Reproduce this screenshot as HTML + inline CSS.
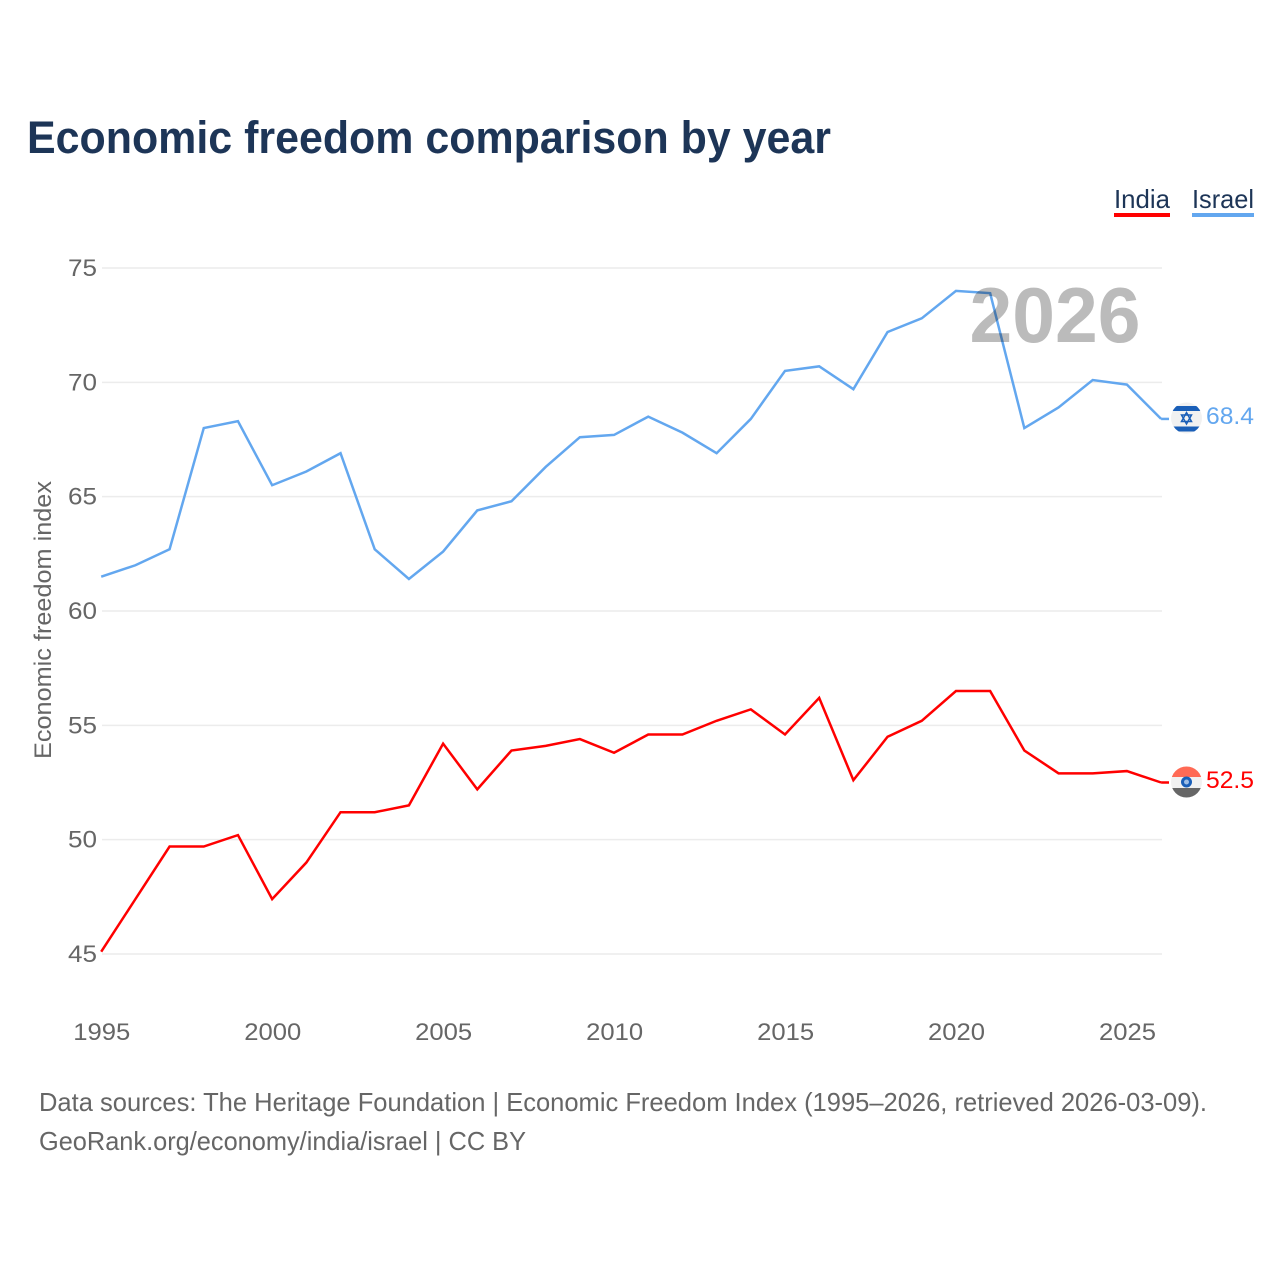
<!DOCTYPE html>
<html lang="en">
<head>
<meta charset="utf-8">
<title>Economic freedom comparison by year</title>
<style>
html,body{margin:0;padding:0;background:#fff;width:1280px;height:1280px;overflow:hidden}
svg{display:block}
text{font-family:"Liberation Sans",sans-serif}
.tick{font-size:24px;fill:#666}
.foot{font-size:26px;fill:#666}
.legend{font-size:26px;fill:#1d3557}
</style>
</head>
<body>
<svg id="chart" xmlns="http://www.w3.org/2000/svg" width="1280" height="1280" viewBox="0 0 1280 1280">
  <defs>
    <clipPath id="clip-il"><circle cx="1186.5" cy="418" r="15.5"/></clipPath>
    <clipPath id="clip-in"><circle cx="1186.5" cy="782" r="15.5"/></clipPath>
  </defs>
  <text x="27" y="153" font-size="45" font-weight="700" fill="#1d3557" textLength="804" lengthAdjust="spacingAndGlyphs">Economic freedom comparison by year</text>

  <g>
    <text class="legend" x="1114" y="208" textLength="56" lengthAdjust="spacingAndGlyphs">India</text>
    <rect x="1114" y="213" width="56" height="4" fill="#ff0000"/>
  </g>
  <g>
    <text class="legend" x="1192" y="208" textLength="62" lengthAdjust="spacingAndGlyphs">Israel</text>
    <rect x="1192" y="213" width="62" height="4" fill="#63a7ef"/>
  </g>

  <g id="grid"></g>
  <g id="yticks"></g>
  <g id="xticks"></g>

  <text x="0" y="0" transform="translate(51,620) rotate(-90)" text-anchor="middle" font-size="24" fill="#666" textLength="278" lengthAdjust="spacingAndGlyphs">Economic freedom index</text>

  <g id="series"></g>

  <text x="1055" y="342" text-anchor="middle" font-size="78" font-weight="700" fill="#bbbbbb" textLength="171" lengthAdjust="spacingAndGlyphs" style="mix-blend-mode:multiply">2026</text>

  <g>
    <g clip-path="url(#clip-il)">
      <rect x="1171" y="402" width="31" height="32" fill="#f1f1f1"/>
      <rect x="1171" y="406" width="31" height="5" fill="#1a5fb8"/>
      <rect x="1171" y="426.500" width="31" height="5" fill="#1a5fb8"/>
      <polygon points="1186.500,412.500 1191.500,421.500 1181.500,421.500" fill="none" stroke="#1a5fb8" stroke-width="1.500"/>
      <polygon points="1186.500,424 1191.500,415 1181.500,415" fill="none" stroke="#1a5fb8" stroke-width="1.500"/>
    </g>
  </g>
  <g>
    <g clip-path="url(#clip-in)">
      <rect x="1171" y="766" width="31" height="11" fill="#ff6a55"/>
      <rect x="1171" y="777" width="31" height="11" fill="#f1f1f1"/>
      <rect x="1171" y="788" width="31" height="11" fill="#666666"/>
      <circle cx="1186.500" cy="782" r="5.500" fill="#1a5fb8"/>
      <circle cx="1186.500" cy="782" r="2.500" fill="#9dbde6"/>
    </g>
  </g>

  <text x="1206" y="424" font-size="24" fill="#63a7ef" textLength="48" lengthAdjust="spacingAndGlyphs">68.4</text>
  <text x="1206" y="788" font-size="24" fill="#ff0000" textLength="48" lengthAdjust="spacingAndGlyphs">52.5</text>

  <text class="foot" x="39" y="1111" textLength="1168" lengthAdjust="spacingAndGlyphs">Data sources: The Heritage Foundation | Economic Freedom Index (1995–2026, retrieved 2026-03-09).</text>
  <text class="foot" x="39" y="1150" textLength="487" lengthAdjust="spacingAndGlyphs">GeoRank.org/economy/india/israel | CC BY</text>
</svg>
<script>
var years = [1995,1996,1997,1998,1999,2000,2001,2002,2003,2004,2005,2006,2007,2008,2009,2010,2011,2012,2013,2014,2015,2016,2017,2018,2019,2020,2021,2022,2023,2024,2025,2026];
var indiaValues = [45.1,47.4,49.7,49.7,50.2,47.4,49.0,51.2,51.2,51.5,54.2,52.2,53.9,54.1,54.4,53.8,54.6,54.6,55.2,55.7,54.6,56.2,52.6,54.5,55.2,56.5,56.5,53.9,52.9,52.9,53.0,52.5];
var israelValues = [61.5,62.0,62.7,68.0,68.3,65.5,66.1,66.9,62.7,61.4,62.6,64.4,64.8,66.3,67.6,67.7,68.5,67.8,66.9,68.4,70.5,70.7,69.7,72.2,72.8,74.0,73.9,68.0,68.9,70.1,69.9,68.4];
var yTickLabels = [45,50,55,60,65,70,75];
var xTickLabels = [1995,2000,2005,2010,2015,2020,2025];

var NS = 'http://www.w3.org/2000/svg';
function xScale(year){ return 101.2 + (year - 1995) * 34.19; }
function yScale(v){ return 954 - (v - 45) * (954 - 268) / 30; }

var grid = document.getElementById('grid');
var yticks = document.getElementById('yticks');
var xticks = document.getElementById('xticks');
var series = document.getElementById('series');

yTickLabels.forEach(function(v){
  var line = document.createElementNS(NS, 'line');
  line.setAttribute('x1', 102);
  line.setAttribute('x2', 1162);
  line.setAttribute('y1', yScale(v));
  line.setAttribute('y2', yScale(v));
  line.setAttribute('stroke', '#ececec');
  line.setAttribute('stroke-width', '1.5');
  
  
  grid.appendChild(line);

  var t = document.createElementNS(NS, 'text');
  t.setAttribute('class', 'tick');
  t.setAttribute('x', 97);
  t.setAttribute('y', yScale(v) + 8);
  t.setAttribute('text-anchor', 'end');
  t.setAttribute('textLength', '29');
  t.setAttribute('lengthAdjust', 'spacingAndGlyphs');
  t.textContent = v;
  
  
  yticks.appendChild(t);
});

xTickLabels.forEach(function(year){
  var t = document.createElementNS(NS, 'text');
  t.setAttribute('class', 'tick');
  t.setAttribute('x', xScale(year) + 0.6);
  t.setAttribute('y', 1040);
  t.setAttribute('text-anchor', 'middle');
  t.setAttribute('textLength', '57');
  t.setAttribute('lengthAdjust', 'spacingAndGlyphs');
  t.textContent = year;
  
  
  xticks.appendChild(t);
});

function pointsFor(values){
  return values.map(function(v, i){ return xScale(years[i]).toFixed(2) + ',' + yScale(v).toFixed(2); }).join(' ');
}

var indiaLine = document.createElementNS(NS, 'polyline');
indiaLine.setAttribute('points', pointsFor(indiaValues));
indiaLine.setAttribute('fill', 'none');
indiaLine.setAttribute('stroke', '#ff0000');
indiaLine.setAttribute('stroke-width', '2.5');


series.appendChild(indiaLine);

var israelLine = document.createElementNS(NS, 'polyline');
israelLine.setAttribute('points', pointsFor(israelValues));
israelLine.setAttribute('fill', 'none');
israelLine.setAttribute('stroke', '#63a7ef');
israelLine.setAttribute('stroke-width', '2.5');


series.appendChild(israelLine);

var indiaConnector = document.createElementNS(NS, 'line');
indiaConnector.setAttribute('x1', xScale(2026));
indiaConnector.setAttribute('x2', 1169);
indiaConnector.setAttribute('y1', yScale(indiaValues[indiaValues.length - 1]));
indiaConnector.setAttribute('y2', yScale(indiaValues[indiaValues.length - 1]));
indiaConnector.setAttribute('stroke', '#ff0000');
indiaConnector.setAttribute('stroke-width', '2.5');


series.appendChild(indiaConnector);

var israelConnector = document.createElementNS(NS, 'line');
israelConnector.setAttribute('x1', xScale(2026));
israelConnector.setAttribute('x2', 1169);
israelConnector.setAttribute('y1', yScale(israelValues[israelValues.length - 1]));
israelConnector.setAttribute('y2', yScale(israelValues[israelValues.length - 1]));
israelConnector.setAttribute('stroke', '#63a7ef');
israelConnector.setAttribute('stroke-width', '2.5');


series.appendChild(israelConnector);
</script>
</body>
</html>
